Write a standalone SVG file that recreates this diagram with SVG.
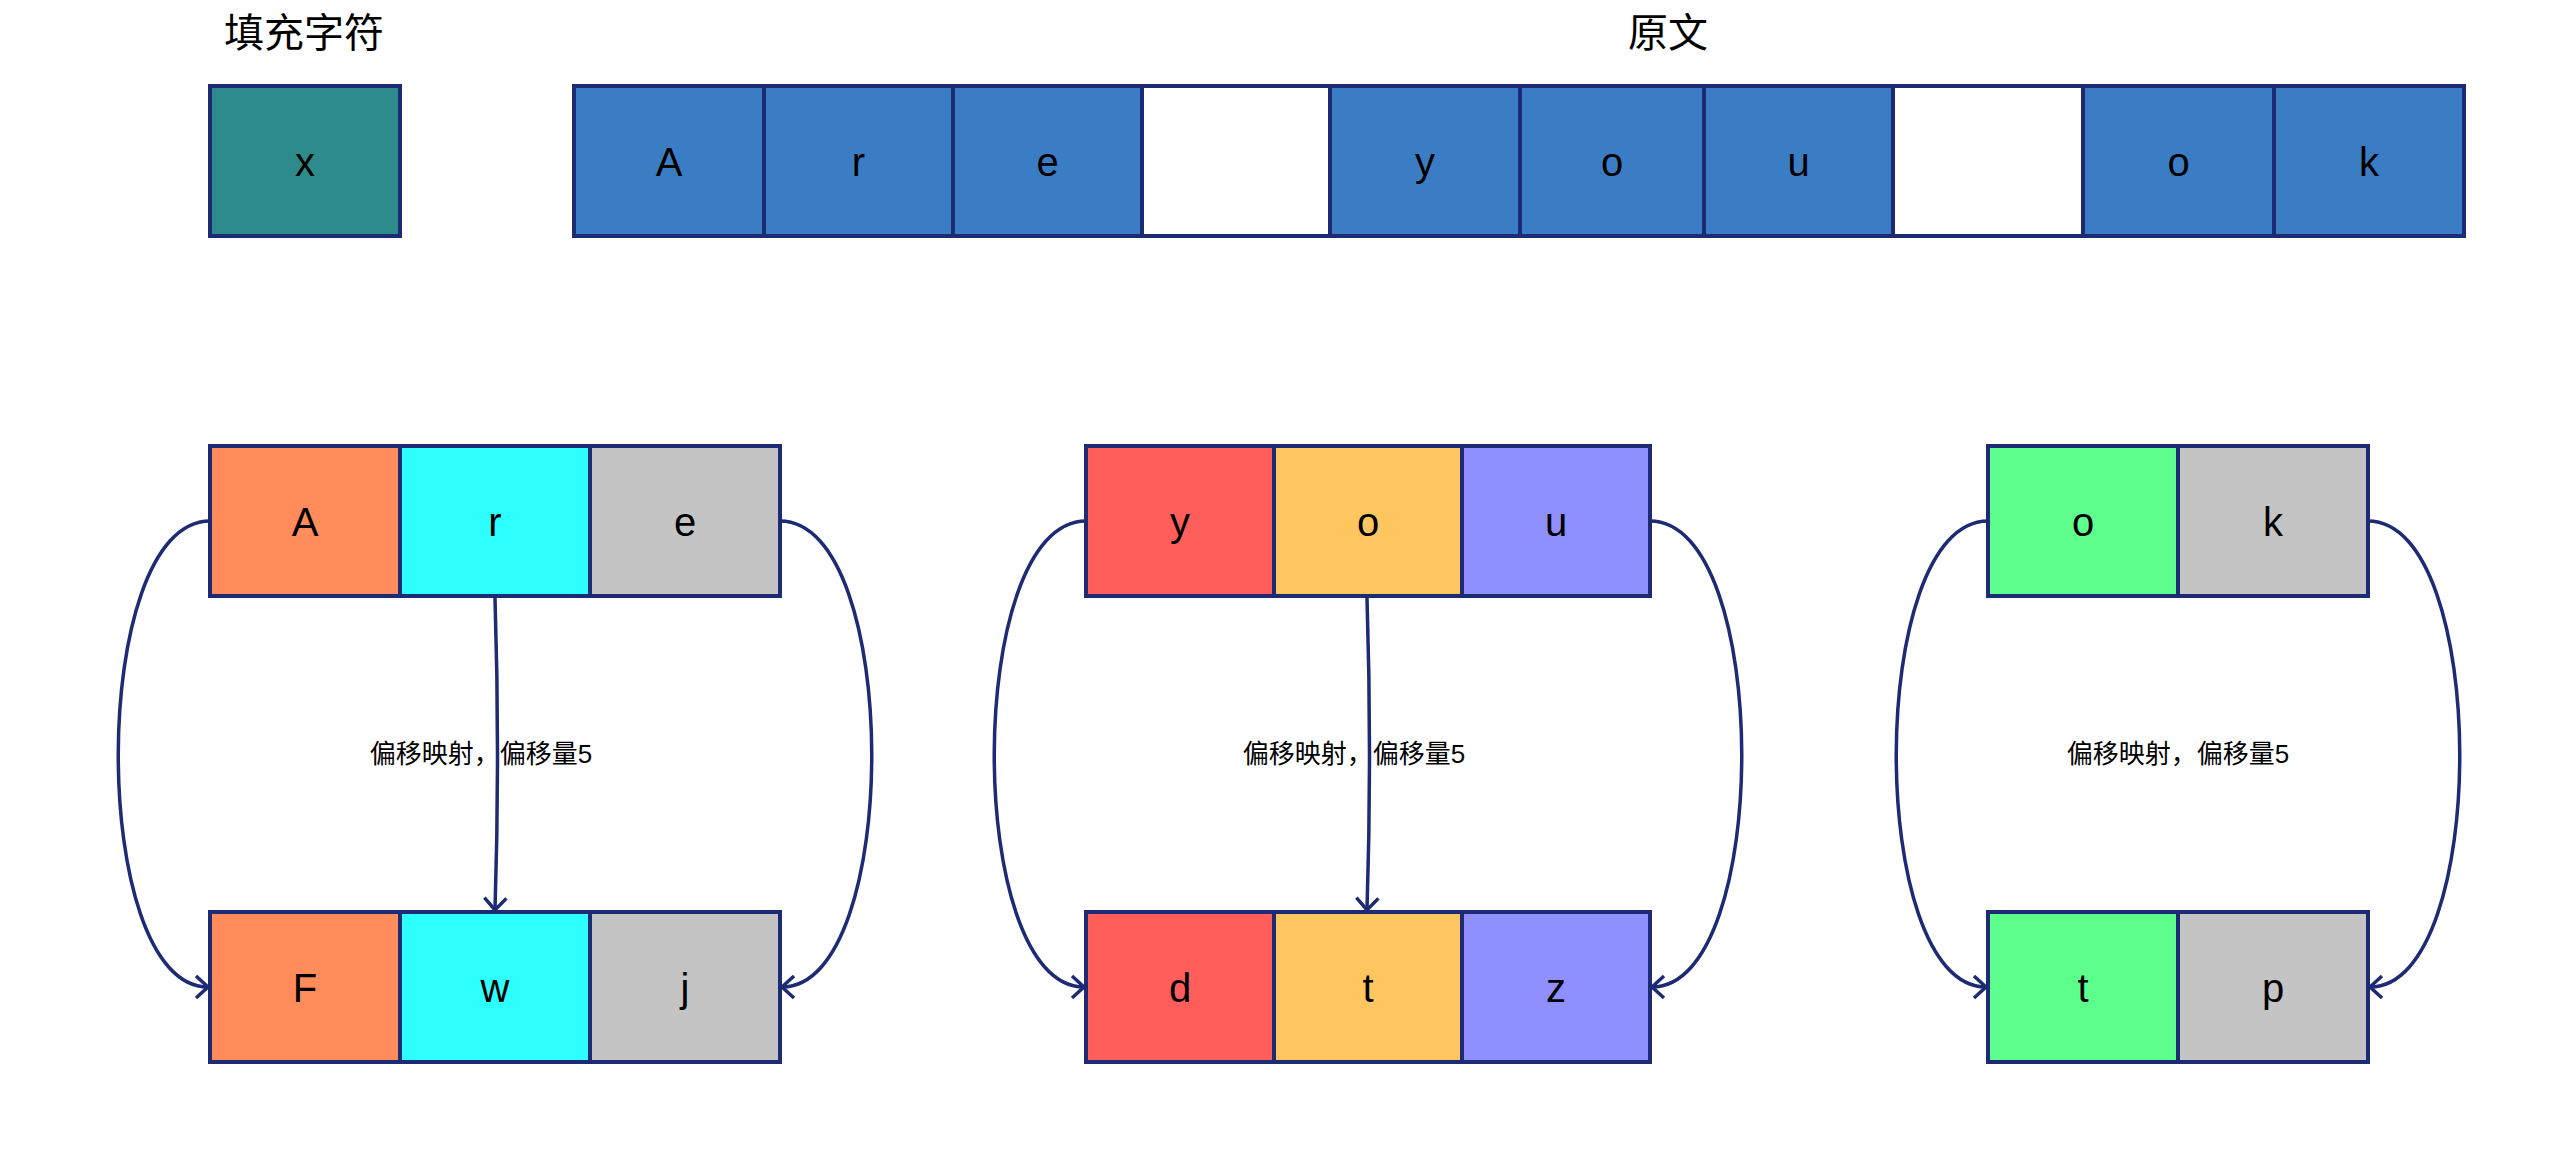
<svg xmlns="http://www.w3.org/2000/svg" width="2564" height="1176" viewBox="0 0 2564 1176">
<style>
.c{stroke:#1c2b73;stroke-width:4}
.t{font-family:"Liberation Sans","Noto Sans CJK SC",sans-serif;font-size:40px;fill:#000;text-anchor:middle}
.h{font-family:"Noto Sans CJK SC","Liberation Sans",sans-serif;font-size:40px;fill:#000;text-anchor:middle}
.l{font-family:"Liberation Sans","Noto Sans CJK SC",sans-serif;font-size:26px;fill:#000;text-anchor:middle}
.e{fill:none;stroke:#1c2b73;stroke-width:3.5}
.blue{fill:#3b7dc4}.teal{fill:#2d8c8b}.white{fill:#ffffff}
.or{fill:#ff8c5a}.cy{fill:#2dfffe}.gr{fill:#c4c4c4}.rd{fill:#ff5e5b}.yl{fill:#ffc55e}.pu{fill:#8f8fff}.gn{fill:#5dff8d}
</style>
<defs>
<marker id="arr" markerUnits="userSpaceOnUse" markerWidth="40" markerHeight="40" viewBox="-20 -20 40 40" refX="0" refY="0" orient="auto" overflow="visible">
<path d="M-12,-11 L0,0 L-12,11" fill="none" stroke="#1c2b73" stroke-width="3.5"/>
</marker>
</defs>
<rect x="0" y="0" width="2564" height="1176" fill="#ffffff"/>

<g id="title-pad"><text class="h" x="304" y="47">填充字符</text></g>
<g id="title-plain"><text class="h" x="1668" y="47">原文</text></g>

<g id="pad-char"><rect class="c teal" x="210" y="86" width="190" height="150"/><text class="t" x="305" y="176">x</text></g>

<g id="plain">
<g id="p0"><rect class="c blue" x="574" y="86" width="190" height="150"/><text class="t" x="669" y="176">A</text></g>
<g id="p1"><rect class="c blue" x="764" y="86" width="189" height="150"/><text class="t" x="858.5" y="176">r</text></g>
<g id="p2"><rect class="c blue" x="953" y="86" width="189" height="150"/><text class="t" x="1047.5" y="176">e</text></g>
<g id="p3"><rect class="c white" x="1142" y="86" width="188" height="150"/></g>
<g id="p4"><rect class="c blue" x="1330" y="86" width="190" height="150"/><text class="t" x="1425" y="176">y</text></g>
<g id="p5"><rect class="c blue" x="1520" y="86" width="184" height="150"/><text class="t" x="1612" y="176">o</text></g>
<g id="p6"><rect class="c blue" x="1704" y="86" width="189" height="150"/><text class="t" x="1798.5" y="176">u</text></g>
<g id="p7"><rect class="c white" x="1893" y="86" width="190" height="150"/></g>
<g id="p8"><rect class="c blue" x="2083" y="86" width="191" height="150"/><text class="t" x="2178.5" y="176">o</text></g>
<g id="p9"><rect class="c blue" x="2274" y="86" width="190" height="150"/><text class="t" x="2369" y="176">k</text></g>
</g>

<g id="g1-top">
<rect class="c or" x="210" y="446" width="190" height="150"/><text class="t" x="305" y="536">A</text>
<rect class="c cy" x="400" y="446" width="190" height="150"/><text class="t" x="495" y="536">r</text>
<rect class="c gr" x="590" y="446" width="190" height="150"/><text class="t" x="685" y="536">e</text>
</g>
<g id="g1-bottom">
<rect class="c or" x="210" y="912" width="190" height="150"/><text class="t" x="305" y="1002">F</text>
<rect class="c cy" x="400" y="912" width="190" height="150"/><text class="t" x="495" y="1002">w</text>
<rect class="c gr" x="590" y="912" width="190" height="150"/><text class="t" x="685" y="1002">j</text>
</g>

<g id="g2-top">
<rect class="c rd" x="1086" y="446" width="188" height="150"/><text class="t" x="1180" y="536">y</text>
<rect class="c yl" x="1274" y="446" width="188" height="150"/><text class="t" x="1368" y="536">o</text>
<rect class="c pu" x="1462" y="446" width="188" height="150"/><text class="t" x="1556" y="536">u</text>
</g>
<g id="g2-bottom">
<rect class="c rd" x="1086" y="912" width="188" height="150"/><text class="t" x="1180" y="1002">d</text>
<rect class="c yl" x="1274" y="912" width="188" height="150"/><text class="t" x="1368" y="1002">t</text>
<rect class="c pu" x="1462" y="912" width="188" height="150"/><text class="t" x="1556" y="1002">z</text>
</g>

<g id="g3-top">
<rect class="c gn" x="1988" y="446" width="190" height="150"/><text class="t" x="2083" y="536">o</text>
<rect class="c gr" x="2178" y="446" width="190" height="150"/><text class="t" x="2273" y="536">k</text>
</g>
<g id="g3-bottom">
<rect class="c gn" x="1988" y="912" width="190" height="150"/><text class="t" x="2083" y="1002">t</text>
<rect class="c gr" x="2178" y="912" width="190" height="150"/><text class="t" x="2273" y="1002">p</text>
</g>

<g id="connectors">
<path class="e" d="M210,521 C88,521 88,987 208,987" marker-end="url(#arr)"/>
<path class="e" d="M780,521 C902,521 902,987 782,987" marker-end="url(#arr)"/>
<path class="e" d="M495,598 Q500,754 495,910" marker-end="url(#arr)"/>
<path class="e" d="M1086,521 C964,521 964,987 1084,987" marker-end="url(#arr)"/>
<path class="e" d="M1650,521 C1772,521 1772,987 1652,987" marker-end="url(#arr)"/>
<path class="e" d="M1367,598 Q1372,754 1367,910" marker-end="url(#arr)"/>
<path class="e" d="M1988,521 C1866,521 1866,987 1986,987" marker-end="url(#arr)"/>
<path class="e" d="M2368,521 C2490,521 2490,987 2370,987" marker-end="url(#arr)"/>
<text class="l" x="481" y="763">偏移映射，偏移量5</text>
<text class="l" x="1354" y="763">偏移映射，偏移量5</text>
<text class="l" x="2178" y="763">偏移映射，偏移量5</text>
</g>
</svg>
